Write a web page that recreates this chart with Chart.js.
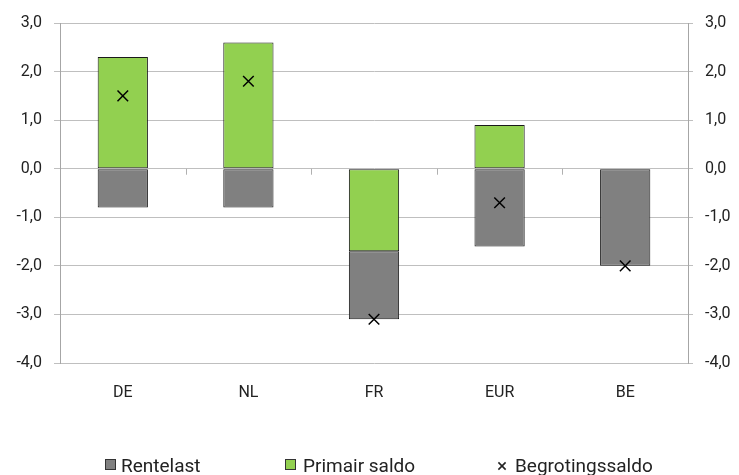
<!DOCTYPE html>
<html>
<head>
<meta charset="utf-8">
<script src="https://cdn.jsdelivr.net/npm/chart.js@4/dist/chart.umd.min.js"></script>
<style>
  body { margin: 0; background: #fff; }
  #wrap { position: relative; width: 739px; height: 475px; }
  .lg { position: absolute; font-family: Roboto, sans-serif; font-size: 19px; color: #222; line-height: 20px; top: 456px; white-space: nowrap; }
  .box { position: absolute; top: 459px; width: 9px; height: 9px; border: 1px solid #333; }
</style>
</head>
<body>
<div id="wrap">
  <canvas id="chart" width="739" height="475"></canvas>
  <div class="box" style="left:105px;background:#808080"></div>
  <div class="lg" style="left:121px">Rentelast</div>
  <div class="box" style="left:285px;background:#92d050"></div>
  <div class="lg" style="left:303px">Primair saldo</div>
  <div class="lg" style="left:497px">×</div>
  <div class="lg" style="left:515px">Begrotingssaldo</div>
</div>
<script>
// landen
let labels = ['DE', 'NL', 'FR', 'EUR', 'BE']
// % bbp
let rentelast = [-0.8, -0.8, -1.4, -1.6, -2.0]
let primairSaldo = [2.3, 2.6, -1.7, 0.9, 0]
let begrotingssaldo = [1.5, 1.8, -3.1, -0.7, -2.0]

let yMin = -4
let yMax = 3

function fmt(v) {
  return v.toFixed(1).replace('.', ',')
}

// kleine streepjes op de nul-lijn tussen de categorieen
let zeroTicks = {
  id: 'zeroTicks',
  afterDraw(chart) {
    let x = chart.scales.x
    let y = chart.scales.y
    let ctx = chart.ctx
    let y0 = y.getPixelForValue(0)
    ctx.save()
    ctx.strokeStyle = '#b0b0b0'
    ctx.lineWidth = 1
    for (i = 1; i < labels.length; i++) {
      let px = Math.round((x.getPixelForValue(i - 1) + x.getPixelForValue(i)) / 2) + 0.5
      ctx.beginPath()
      ctx.moveTo(px, y0)
      ctx.lineTo(px, y0 + 6)
      ctx.stroke()
    }
    ctx.restore()
  }
}

let tickFont = { family: 'Roboto', size: 16 }

new Chart(document.getElementById('chart'), {
  data: {
    labels: labels,
    datasets: [
      {
        type: 'line',
        label: 'Begrotingssaldo',
        data: begrotingssaldo,
        showLine: false,
        pointStyle: 'crossRot',
        pointRadius: 7.5,
        pointBorderWidth: 1.5,
        borderColor: '#000',
        backgroundColor: '#000',
        stack: 'saldo'
      },
      {
        type: 'bar',
        label: 'Primair saldo',
        data: primairSaldo,
        backgroundColor: '#92d050',
        borderColor: '#1a1a1a',
        borderWidth: 1,
        borderSkipped: false,
        stack: 'bars'
      },
      {
        type: 'bar',
        label: 'Rentelast',
        data: rentelast,
        backgroundColor: '#808080',
        borderColor: '#1a1a1a',
        borderWidth: 1,
        borderSkipped: false,
        stack: 'bars'
      }
    ]
  },
  options: {
    responsive: false,
    animation: false,
    layout: { padding: { top: 23, bottom: 62, left: 0, right: 0 } },
    datasets: { bar: { barPercentage: 0.4, categoryPercentage: 1 } },
    plugins: { legend: { display: false }, tooltip: { enabled: false } },
    scales: {
      x: {
        stacked: true,
        grid: { display: false },
        border: { display: false },
        ticks: { font: tickFont, color: '#222', padding: 12 },
        afterFit(scale) { scale.height = 50 }
      },
      y: {
        stacked: true,
        position: 'left',
        min: yMin,
        max: yMax,
        ticks: { stepSize: 1, font: tickFont, color: '#222', padding: 12, callback: v => fmt(v) },
        grid: { color: '#bfbfbf', tickLength: 6 },
        border: { color: '#a6a6a6' },
        afterFit(scale) { scale.width = 60 }
      },
      y2: {
        position: 'right',
        min: yMin,
        max: yMax,
        ticks: { stepSize: 1, font: tickFont, color: '#222', padding: 12, callback: v => fmt(v) },
        grid: { drawOnChartArea: false, color: '#bfbfbf', tickLength: 5 },
        border: { color: '#a6a6a6' },
        afterFit(scale) { scale.width = 51 }
      }
    }
  },
  plugins: [zeroTicks]
})
</script>
</body>
</html>
